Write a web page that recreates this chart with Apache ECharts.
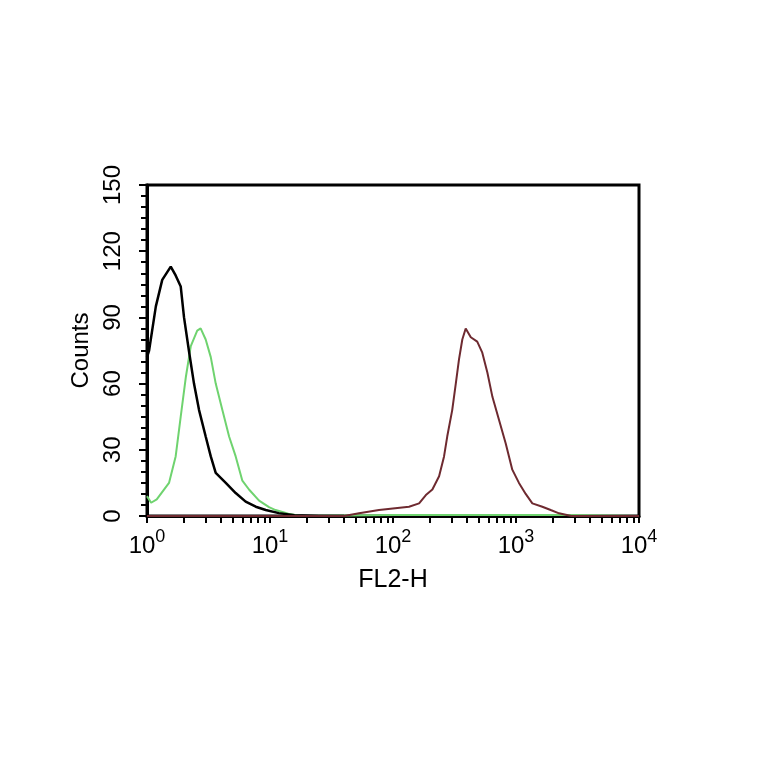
<!DOCTYPE html>
<html>
<head>
<meta charset="utf-8">
<script src="https://cdn.jsdelivr.net/npm/echarts@6/dist/echarts.min.js"></script>
<style>html,body{margin:0;padding:0;background:#fff}#c{width:764px;height:764px}</style>
</head>
<body>
<div id="c"></div>
<script>
// FL2-H values (log scale) and counts
const blackX = [1, 1.04, 1.18, 1.33, 1.56, 1.71, 1.88, 2.00, 2.19, 2.41, 2.65, 3.00, 3.30, 3.62, 4.37, 5.26, 6.34, 7.66, 9.23, 11.8, 15.8, 25, 40];
const blackY = [72, 75, 95, 107, 113, 109, 104, 90, 75, 60, 48, 36, 27, 19.5, 15, 10.4, 6.5, 4.2, 2.7, 1.3, 0.3, 0, 0];

const greenX = [1, 1.08, 1.2, 1.51, 1.71, 1.88, 2.07, 2.27, 2.56, 2.73, 3.00, 3.30, 3.62, 4.10, 4.65, 5.26, 5.96, 6.75, 8.15, 9.82, 11.1, 14.1, 17.8, 100, 2500, 10000];
const greenY = [9, 6, 7.5, 15, 27, 45, 63, 77, 84, 85, 80, 72, 60, 48, 36, 27, 16, 12, 7, 4, 2.7, 1, 0, 0.4, 0.4, 0];

const redX = [1, 40, 53, 76.9, 135, 163, 185, 209, 237, 260, 276, 303, 324, 344, 366, 390, 429, 484, 532, 585, 643, 728, 824, 933, 1057, 1199, 1358, 1637, 1914, 2239, 2818, 10000];
const redY = [0, 0, 1.2, 2.7, 4.2, 5.7, 9.5, 12, 18, 27, 36, 48, 60, 71, 80, 85, 81, 79, 74, 65, 54, 43.5, 33, 21, 15, 10, 5.7, 4.2, 2.7, 1.2, 0, 0];

const yTicks = [0, 30, 60, 90, 120, 150];
const xMajorTicks = [1, 10, 100, 1000, 10000];
const xAllTicks = [1,2,3,4,5,6,7,8,9,10,20,30,40,50,60,70,80,90,100,200,300,400,500,600,700,800,900,1000,2000,3000,4000,5000,6000,7000,8000,9000,10000];

function pairs(xs, ys) { return xs.map((x, i) => [x, ys[i]]); }

const chart = echarts.init(document.getElementById('c'), null, {renderer: 'canvas'});
const font = 'Liberation Sans, Arial, sans-serif';
chart.setOption({
  backgroundColor: '#fff',
  animation: false,
  grid: {left: 147, right: 125, top: 185, bottom: 248, show: true, borderColor: '#000', borderWidth: 3, backgroundColor: 'transparent'},
  xAxis: {
    type: 'log', logBase: 10, min: 1, max: 10000,
    name: 'FL2-H', nameLocation: 'middle', nameGap: 52,
    nameTextStyle: {fontFamily: font, fontSize: 25, color: '#000'},
    axisLine: {show: true, lineStyle: {color: '#000', width: 3}},
    axisTick: {show: true, length: 7, customValues: xAllTicks, lineStyle: {color: '#000', width: 2}},
    splitLine: {show: false},
    minorTick: {show: false},
    axisLabel: {
      margin: 12,
      customValues: xMajorTicks,
      formatter: v => '{b|10}{s|' + Math.round(Math.log10(v)) + '}',
      rich: {
        b: {fontFamily: font, fontSize: 24, color: '#000', verticalAlign: 'bottom', lineHeight: 30},
        s: {fontFamily: font, fontSize: 18, color: '#000', verticalAlign: 'top', lineHeight: 30}
      }
    }
  },
  yAxis: {
    type: 'value', min: 0, max: 150, interval: 30,
    name: 'Counts', nameLocation: 'middle', nameGap: 52,
    nameTextStyle: {fontFamily: font, fontSize: 24, color: '#000'},
    axisLine: {show: true, lineStyle: {color: '#000', width: 3}},
    axisTick: {show: true, length: 8, lineStyle: {color: '#000', width: 2}},
    minorTick: {show: true, splitNumber: 6, length: 6, lineStyle: {color: '#000', width: 2}},
    splitLine: {show: false},
    axisLabel: {rotate: 90, margin: 22, fontFamily: font, fontSize: 24, color: '#000',
      formatter: v => yTicks.includes(v) ? String(v) : ''}
  },
  series: [
    {type: 'line', data: pairs(blackX, blackY), showSymbol: false, lineStyle: {color: '#000', width: 2.5}, z: 3},
    {type: 'line', data: pairs(greenX, greenY), showSymbol: false, lineStyle: {color: '#6fd36f', width: 2}, z: 2},
    {type: 'line', data: pairs(redX, redY), showSymbol: false, lineStyle: {color: '#6e2a30', width: 2}, z: 4}
  ]
});
</script>
</body>
</html>
